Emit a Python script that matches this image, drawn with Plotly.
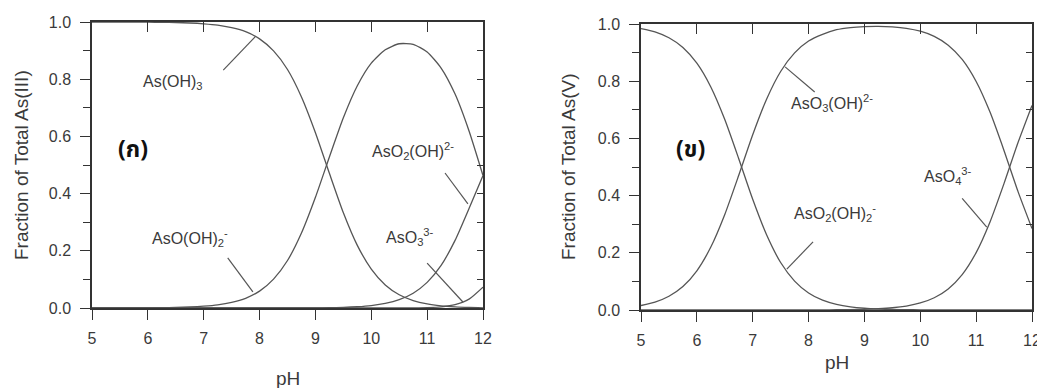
import plotly.graph_objects as go

# ---------------- data ----------------
ph = [5.0, 5.25, 5.5, 5.75, 6.0, 6.25, 6.5, 6.75, 7.0, 7.25, 7.5, 7.75, 8.0, 8.25, 8.5,
      8.75, 9.0, 9.25, 9.5, 9.75, 10.0, 10.25, 10.5, 10.75, 11.0, 11.25, 11.5, 11.75, 12.0]

# As(III) species
as_oh3 = [1.0, 1.0, 0.9998, 0.9996, 0.9994, 0.9989, 0.998, 0.9965, 0.9937, 0.989, 0.980,
          0.966, 0.941, 0.899, 0.834, 0.738, 0.613, 0.471, 0.333, 0.219, 0.136, 0.0805,
          0.0463, 0.026, 0.0142, 0.0075, 0.0037, 0.0017, 0.0007]
aso_oh2 = [0.0001, 0.0001, 0.0002, 0.0004, 0.0006, 0.0011, 0.002, 0.0035, 0.0063, 0.011,
           0.0196, 0.034, 0.059, 0.101, 0.166, 0.262, 0.387, 0.528, 0.665, 0.777, 0.856,
           0.903, 0.924, 0.922, 0.895, 0.839, 0.748, 0.619, 0.463]
aso2_oh = [0, 0, 0, 0, 0, 0, 0, 0, 0, 0, 0, 0, 0, 0, 0, 0.0001, 0.0004, 0.001, 0.002, 0.0044,
           0.0086, 0.016, 0.0292, 0.0518, 0.0895, 0.149, 0.2365, 0.348, 0.463]
aso3 = [0, 0, 0, 0, 0, 0, 0, 0, 0, 0, 0, 0, 0, 0, 0, 0, 0, 0, 0, 0, 0, 0.00005, 0.00015,
        0.0005, 0.0014, 0.0042, 0.0118, 0.031, 0.073]

# As(V) species
aso2_oh2 = [0.984, 0.9726, 0.952, 0.918, 0.863, 0.780, 0.666, 0.529, 0.387, 0.262, 0.166,
            0.101, 0.0594, 0.0342, 0.0196, 0.0111, 0.0062, 0.0035, 0.002, 0.0011, 0.0006,
            0.0003, 0.0002, 0.0001, 0.0001, 0, 0, 0, 0]
aso3_oh = [0.0156, 0.0274, 0.048, 0.082, 0.137, 0.220, 0.334, 0.471, 0.613, 0.738, 0.834,
           0.899, 0.9404, 0.964, 0.980, 0.9875, 0.991, 0.992, 0.990, 0.985, 0.975, 0.957,
           0.926, 0.876, 0.799, 0.691, 0.557, 0.414, 0.285]
aso4 = [0, 0, 0, 0, 0, 0, 0, 0, 0, 0, 0, 0, 0.0002, 0.0004, 0.0008, 0.0014, 0.0025, 0.0044,
        0.0079, 0.0139, 0.0245, 0.0428, 0.0736, 0.1238, 0.2007, 0.3088, 0.4427, 0.5856,
        0.7153]

x_ticks = [5, 6, 7, 8, 9, 10, 11, 12]
x_top_ticks = [6, 7, 8, 9, 10, 11]
y_ticks = [0.0, 0.2, 0.4, 0.6, 0.8, 1.0]
y_ticktext = ["0.0", "0.2", "0.4", "0.6", "0.8", "1.0"]

# ---------------- styling ----------------
FONT = "Liberation Sans, Arial, Helvetica, sans-serif"
THAI_FONT = "Noto Sans Thai, Loma, Garuda, Tlwg Typo, Noto Sans, DejaVu Sans, sans-serif"
TXT = "#3a3a3a"
LINE = "#555555"
AX = "#333333"

# page body adds an 8px margin; the figure is sized to fill the rest of the window
OFF = 8
W, H = 1045 - OFF, 388 - OFF


def px(v):
    return (v - OFF) / W


def py(v):
    return (H - (v - OFF)) / H


fig = go.Figure()

for ys in (as_oh3, aso_oh2, aso2_oh, aso3):
    fig.add_trace(go.Scatter(x=ph, y=ys, mode="lines", line=dict(color=LINE, width=1.3, shape="spline", smoothing=0.6),
                             xaxis="x", yaxis="y", showlegend=False, hoverinfo="skip"))
for ys in (aso2_oh2, aso3_oh, aso4):
    fig.add_trace(go.Scatter(x=ph, y=ys, mode="lines", line=dict(color=LINE, width=1.3, shape="spline", smoothing=0.6),
                             xaxis="x2", yaxis="y2", showlegend=False, hoverinfo="skip"))
# dummy traces for mirror (inside-tick) axes
fig.add_trace(go.Scatter(x=[None], y=[None], xaxis="x3", yaxis="y3", showlegend=False, hoverinfo="skip"))
fig.add_trace(go.Scatter(x=[None], y=[None], xaxis="x4", yaxis="y4", showlegend=False, hoverinfo="skip"))

XD1 = [px(92), px(483)]
XD2 = [px(641), px(1032)]
YD1 = [py(308), py(22)]
YD2 = [py(310), py(24)]


def xaxis(domain, anchor):
    return dict(domain=domain, anchor=anchor, range=[5, 12], tickmode="array", tickvals=x_ticks,
                ticks="outside", ticklen=10, tickwidth=1.3, tickcolor=AX, showline=True, linecolor=AX,
                linewidth=1.5, mirror=True, showgrid=False, zeroline=False, ticklabelstandoff=5,
                automargin=False, tickfont=dict(family=FONT, size=16, color=TXT), fixedrange=True)


def yaxis(domain, anchor):
    return dict(domain=domain, anchor=anchor, range=[0, 1], tickmode="array", tickvals=y_ticks,
                ticktext=y_ticktext, ticks="outside", ticklen=10, tickwidth=1.3, tickcolor=AX,
                minor=dict(dtick=0.1, ticks="outside", ticklen=7, tickwidth=1.3, tickcolor=AX, showgrid=False),
                showline=True, linecolor=AX, linewidth=1.5, mirror=True, showgrid=False, zeroline=False,
                ticklabelstandoff=6, automargin=False,
                tickfont=dict(family=FONT, size=16, color=TXT), fixedrange=True)


def xtop(over, anchor):
    return dict(overlaying=over, anchor=anchor, side="top", range=[5, 12], tickmode="array",
                tickvals=x_top_ticks, ticks="inside", ticklen=10, tickwidth=1.3, tickcolor=AX,
                showticklabels=False, showline=False, showgrid=False, zeroline=False,
                automargin=False, fixedrange=True)


def yright(over, anchor):
    return dict(overlaying=over, anchor=anchor, side="right", range=[0, 1], tickmode="linear", tick0=0,
                dtick=0.1, ticks="inside", ticklen=6, tickwidth=1.3, tickcolor=AX, showticklabels=False,
                showline=False, showgrid=False, zeroline=False, automargin=False, fixedrange=True)


fig.update_layout(
    template="none",
    width=W, height=H, margin=dict(l=0, r=0, t=0, b=0, pad=0), autosize=False,
    paper_bgcolor="white", plot_bgcolor="white",
    xaxis=xaxis(XD1, "y"), yaxis=yaxis(YD1, "x"),
    xaxis2=xaxis(XD2, "y2"), yaxis2=yaxis(YD2, "x2"),
    xaxis3=dict(xtop("x", "y3"), domain=XD1), yaxis3=dict(yright("y", "x3"), domain=YD1),
    xaxis4=dict(xtop("x2", "y4"), domain=XD2), yaxis4=dict(yright("y2", "x4"), domain=YD2),
)

ann = []
# axis titles
ann.append(dict(text="pH", xref="x domain", x=0.5, yref="paper", y=py(378), yanchor="middle",
                showarrow=False, font=dict(family=FONT, size=19, color=TXT)))
ann.append(dict(text="pH", xref="x2 domain", x=0.5, yref="paper", y=py(362), yanchor="middle",
                showarrow=False, font=dict(family=FONT, size=19, color=TXT)))
ann.append(dict(text="Fraction of Total As(III)", textangle=-90, xref="paper", x=px(21), xanchor="center",
                yref="y domain", y=0.5, showarrow=False, font=dict(family=FONT, size=19, color=TXT)))
ann.append(dict(text="Fraction of Total As(V)", textangle=-90, xref="paper", x=px(568), xanchor="center",
                yref="y2 domain", y=0.5, showarrow=False, font=dict(family=FONT, size=19, color=TXT)))

# panel tags
ann.append(dict(text="<b>(ก)</b>", xref="x", yref="y", x=5.74, y=0.552, showarrow=False,
                font=dict(family=THAI_FONT, size=23, color="#111111")))
ann.append(dict(text="<b>(ข)</b>", xref="x2", yref="y2", x=5.88, y=0.56, showarrow=False,
                font=dict(family=THAI_FONT, size=23, color="#111111")))

# species labels
lab_font = dict(family=FONT, size=16, color=TXT)
labels = [
    ("x", "y", 6.45, 0.79, "As(OH)<sub>3</sub>"),
    ("x", "y", 6.75, 0.245, "AsO(OH)<sub>2</sub><sup>-</sup>"),
    ("x", "y", 10.75, 0.55, "AsO<sub>2</sub>(OH)<sup>2-</sup>"),
    ("x", "y", 10.69, 0.248, "AsO<sub>3</sub><sup>3-</sup>"),
    ("x2", "y2", 8.42, 0.724, "AsO<sub>3</sub>(OH)<sup>2-</sup>"),
    ("x2", "y2", 8.47, 0.34, "AsO<sub>2</sub>(OH)<sub>2</sub><sup>-</sup>"),
    ("x2", "y2", 10.5, 0.47, "AsO<sub>4</sub><sup>3-</sup>"),
]
for xr, yr, x, y, t in labels:
    ann.append(dict(text=t, xref=xr, yref=yr, x=x, y=y, showarrow=False, font=lab_font))
fig.update_layout(annotations=ann)

# leader lines
leaders = [
    ("x", "y", 7.35, 0.832, 7.92, 0.948),
    ("x", "y", 7.43, 0.175, 7.88, 0.056),
    ("x", "y", 11.32, 0.472, 11.73, 0.364),
    ("x", "y", 11.0, 0.157, 11.64, 0.021),
    ("x2", "y2", 8.11, 0.762, 7.58, 0.85),
    ("x2", "y2", 8.08, 0.238, 7.61, 0.143),
    ("x2", "y2", 10.75, 0.39, 11.19, 0.29),
]
for xr, yr, x0, y0, x1, y1 in leaders:
    fig.add_shape(type="line", xref=xr, yref=yr, x0=x0, y0=y0, x1=x1, y1=y1,
                  line=dict(color=LINE, width=1.2))

fig.write_html("out.html")
